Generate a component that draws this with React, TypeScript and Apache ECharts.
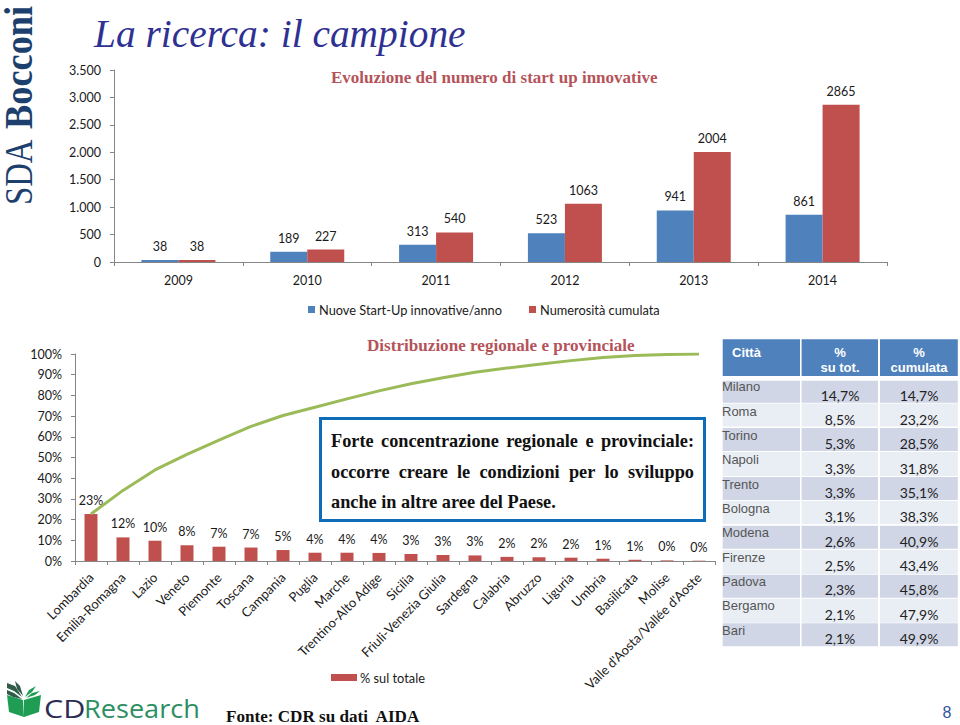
import React, { useEffect, useRef } from "react";
import * as echarts from "echarts";

const years = ["2009", "2010", "2011", "2012", "2013", "2014"];
const newStartups = [38, 189, 313, 523, 941, 861];
const cumulative = [38, 227, 540, 1063, 2004, 2865];

const regions = [
  "Lombardia", "Emilia-Romagna", "Lazio", "Veneto", "Piemonte", "Toscana", "Campania", "Puglia", "Marche",
  "Trentino-Alto Adige", "Sicilia", "Friuli-Venezia Giulia", "Sardegna", "Calabria", "Abruzzo", "Liguria",
  "Umbria", "Basilicata", "Molise", "Valle d'Aosta/Vallée d'Aoste",
];
const regionShare = [22.7, 11.4, 9.8, 7.6, 6.9, 6.5, 5.3, 4.0, 4.0, 3.9, 3.4, 2.9, 2.7, 2.0, 1.8, 1.6, 1.1, 0.6, 0.3, 0.15];
const regionLabels = ["23%", "12%", "10%", "8%", "7%", "7%", "5%", "4%", "4%", "4%", "3%", "3%", "3%", "2%", "2%", "2%", "1%", "1%", "0%", "0%"];
const regionCumulative = [22.7, 34.1, 44.0, 51.5, 58.4, 65.0, 70.3, 74.3, 78.3, 82.2, 85.6, 88.5, 91.2, 93.2, 95.0, 96.8, 98.3, 99.3, 99.8, 100];

const cities = ["Milano", "Roma", "Torino", "Napoli", "Trento", "Bologna", "Modena", "Firenze", "Padova", "Bergamo", "Bari"];
const cityShare = ["14,7%", "8,5%", "5,3%", "3,3%", "3,3%", "3,1%", "2,6%", "2,5%", "2,3%", "2,1%", "2,1%"];
const cityCumulative = ["14,7%", "23,2%", "28,5%", "31,8%", "35,1%", "38,3%", "40,9%", "43,4%", "45,8%", "47,9%", "49,9%"];

const boxLines = [
  { text: "Forte concentrazione regionale e provinciale:", justify: true },
  { text: "occorre creare le condizioni per lo sviluppo", justify: true },
  { text: "anche in altre aree del Paese.", justify: false },
];

const BLUE = "#4f81bd";
const RED = "#c0504d";
const GREEN = "#9bbb59";
const AXIS = "#868686";
const SANS = "Lato";
const SERIF = "'Liberation Serif'";
const HEAD = "#b5535a";

function wordElements() {
  const font = `bold 18.3px ${SERIF}`;
  const ctx = document.createElement("canvas").getContext("2d") as CanvasRenderingContext2D;
  ctx.font = font;
  const left = 331;
  const right = 694;
  const ys = [441, 471.5, 501.5];
  const out: any[] = [];
  boxLines.forEach((line, i) => {
    const words = line.text.split(" ");
    const widths = words.map((w) => ctx.measureText(w).width);
    const total = widths.reduce((a, b) => a + b, 0);
    const gap = line.justify ? (right - left - total) / (words.length - 1) : ctx.measureText(" ").width;
    let x = left;
    words.forEach((w, j) => {
      out.push({
        type: "text", x, y: ys[i], z: 10,
        style: { text: w, font, fill: "#111", textVerticalAlign: "middle", textBaseline: "middle" },
      });
      x += widths[j] + gap;
    });
  });
  return out;
}

function tableElements() {
  const out: any[] = [];
  const cols = [[722.7, 77.3], [801.6, 76.4], [880, 77.8]];
  const rowTops = [380.7, 403.6, 428, 452, 477, 501, 525.7, 550, 574.7, 598.7, 623.3];
  const rowH = [22, 23, 23, 24, 23, 23, 23, 24, 23, 24, 23];
  cols.forEach(([x, w]) => {
    out.push({ type: "rect", shape: { x, y: 339.3, width: w, height: 36.7 }, style: { fill: BLUE } });
    rowTops.forEach((y, r) => {
      out.push({ type: "rect", shape: { x, y, width: w, height: rowH[r] }, style: { fill: r % 2 ? "#e9edf4" : "#d0d6e6" } });
    });
  });
  const head = (text: string, x: number, y: number, align: string) => ({
    type: "text", x, y, z: 5,
    style: { text, font: "bold 13px 'Liberation Sans'", fill: "#fff", textAlign: align, textVerticalAlign: "middle", textBaseline: "middle" },
  });
  out.push(head("Città", 732, 352, "left"));
  out.push(head("%", 840, 352, "center"));
  out.push(head("su tot.", 840, 367, "center"));
  out.push(head("%", 919, 352, "center"));
  out.push(head("cumulata", 919, 367, "center"));
  cities.forEach((c, r) => {
    const cy = 386.7 + r * 24.35;
    const vy = 395 + r * 24.35;
    out.push({
      type: "text", x: 722, y: cy, z: 5,
      style: { text: c, font: "13px 'Liberation Sans'", fill: "#555", textVerticalAlign: "middle", textBaseline: "middle" },
    });
    [[840, cityShare[r]], [919, cityCumulative[r]]].forEach(([x, t]) => {
      out.push({
        type: "text", x, y: vy, z: 5,
        style: { text: t, font: `14px ${SANS}`, fill: "#222", textAlign: "center", textVerticalAlign: "middle", textBaseline: "middle" },
      });
    });
  });
  return out;
}

function logoElements() {
  const dark = "#2f5d48";
  const green = "#1f9d55";
  const polys: [string, number[][]][] = [
    [green, [[7, 695], [23, 700], [24, 717], [9, 712]]],
    [green, [[24, 700], [41, 695], [39, 712], [24, 717]]],
    [dark, [[7, 683], [15, 686], [22, 697], [14, 691], [7, 688]]],
    [dark, [[7, 690], [14, 693], [22, 699], [13, 697], [7, 694]]],
    [dark, [[15, 681], [20, 686], [23, 696], [17, 689]]],
    [green, [[25, 697], [29, 690], [36, 686], [32, 692]]],
    [green, [[26, 698], [32, 693], [40, 691], [35, 695]]],
  ];
  const out: any[] = polys.map(([fill, points]) => ({ type: "polygon", shape: { points }, style: { fill } }));
  out.push({
    type: "text", x: 44, y: 708, scaleX: 1.22,
    style: { text: "CD", font: "25px 'Open Sans'", fill: "#2b2d55", textVerticalAlign: "middle", textBaseline: "middle" },
  });
  out.push({
    type: "text", x: 84, y: 708, scaleX: 1.085,
    style: { text: "Research", font: "25px 'Open Sans'", fill: "#2c8f63", textVerticalAlign: "middle", textBaseline: "middle" },
  });
  return out;
}

export default function App() {
  const ref = useRef<HTMLDivElement>(null);
  useEffect(() => {
    const chart = echarts.init(ref.current as HTMLDivElement, undefined, { renderer: "svg" });
    const axisLine = { show: true, lineStyle: { color: AXIS, width: 1 } };
    const axisTick = { show: true, length: 4, lineStyle: { color: AXIS } };
    const labelStyle = { fontFamily: SANS, fontSize: 12.5, color: "#1a1a1a" };
    const barLabel = { show: true, position: "top", distance: 7, fontFamily: SANS, fontSize: 12.5, color: "#1a1a1a" };
    chart.setOption({
      animation: false,
      grid: [
        { left: 114, top: 70, width: 773, height: 192 },
        { left: 75, top: 354, width: 640, height: 207 },
      ],
      xAxis: [
        {
          type: "category", gridIndex: 0, data: years, axisLine, axisTick,
          axisLabel: { ...labelStyle, margin: 12 },
        },
        {
          type: "category", gridIndex: 1, data: regions, axisLine, axisTick,
          axisLabel: { ...labelStyle, interval: 0, rotate: 45, margin: 14, fontSize: 13 },
        },
      ],
      yAxis: [
        {
          type: "value", gridIndex: 0, min: 0, max: 3500, interval: 500, splitLine: { show: false }, axisLine, axisTick,
          axisLabel: { ...labelStyle, margin: 13, formatter: (v: number) => String(v).replace(/(\d)(\d{3})$/, "$1.$2") },
        },
        {
          type: "value", gridIndex: 1, min: 0, max: 100, interval: 10, splitLine: { show: false }, axisLine, axisTick,
          axisLabel: { ...labelStyle, margin: 13, formatter: "{value}%" },
        },
      ],
      legend: [
        {
          data: ["Nuove Start-Up innovative/anno", "Numerosità cumulata"],
          left: 308, top: 303, itemWidth: 7, itemHeight: 7, itemGap: 27, padding: 0,
          icon: "rect", textStyle: { ...labelStyle, fontSize: 12.8, padding: [0, 0, 0, -1] },
        },
        {
          data: ["% sul totale"],
          left: 331, top: 671, itemWidth: 26, itemHeight: 7, padding: 0, icon: "rect",
          textStyle: { ...labelStyle, fontSize: 12.8, padding: [0, 0, 0, -2] },
        },
      ],
      series: [
        {
          name: "Nuove Start-Up innovative/anno", type: "bar", xAxisIndex: 0, yAxisIndex: 0, data: newStartups,
          barWidth: 37, barGap: 0, itemStyle: { color: BLUE }, label: barLabel,
        },
        {
          name: "Numerosità cumulata", type: "bar", xAxisIndex: 0, yAxisIndex: 0, data: cumulative,
          barWidth: 37, barGap: 0, itemStyle: { color: RED }, label: barLabel,
        },
        {
          name: "% sul totale", type: "bar", xAxisIndex: 1, yAxisIndex: 1, data: regionShare,
          barWidth: 13, itemStyle: { color: RED },
          label: { ...barLabel, formatter: (p: any) => regionLabels[p.dataIndex] },
        },
        {
          name: "% cumulata", type: "line", xAxisIndex: 1, yAxisIndex: 1, data: regionCumulative,
          showSymbol: false, symbol: "none", lineStyle: { color: GREEN, width: 3 },
        },
      ],
      graphic: [
        { type: "text", x: 94, y: 34, style: { text: "La ricerca: il campione", font: `italic 39.4px ${SERIF}`, fill: "#2e3192", textVerticalAlign: "middle", textBaseline: "middle" } },
        { type: "text", x: 331, y: 77, style: { text: "Evoluzione del numero di start up innovative", font: `bold 17px ${SERIF}`, fill: HEAD, textVerticalAlign: "middle", textBaseline: "middle" } },
        { type: "text", x: 367, y: 345, style: { text: "Distribuzione regionale e provinciale", font: `bold 17.1px ${SERIF}`, fill: HEAD, textVerticalAlign: "middle", textBaseline: "middle" } },
        { type: "rect", shape: { x: 320.5, y: 418.5, width: 384, height: 102 }, z: 9, style: { fill: "#fff", stroke: "#0e6cb9", lineWidth: 3 } },
        ...wordElements(),
        { type: "text", x: 226, y: 716.5, style: { text: "Fonte: CDR su dati  AIDA", font: `bold 17.1px ${SERIF}`, fill: "#111", textVerticalAlign: "middle", textBaseline: "middle" } },
        { type: "text", x: 947, y: 712, style: { text: "8", font: "16px 'Liberation Sans'", fill: "#2f5597", textAlign: "center", textVerticalAlign: "middle", textBaseline: "middle" } },
        { type: "text", x: 18, y: 205, rotation: Math.PI / 2, scaleX: 0.91, scaleY: 1.11, style: { text: "SDA", font: `36px ${SERIF}`, fill: "#1d3f6e", textVerticalAlign: "middle", textBaseline: "middle" } },
        { type: "text", x: 18, y: 129, rotation: Math.PI / 2, scaleX: 1.01, scaleY: 1.11, style: { text: "Bocconi", font: `bold 36px ${SERIF}`, fill: "#1d3f6e", textVerticalAlign: "middle", textBaseline: "middle" } },
        ...tableElements(),
        ...logoElements(),
      ],
    });
    return () => chart.dispose();
  }, []);
  return <div ref={ref} style={{ position: "absolute", left: 0, top: 0, width: 960, height: 725 }} />;
}
